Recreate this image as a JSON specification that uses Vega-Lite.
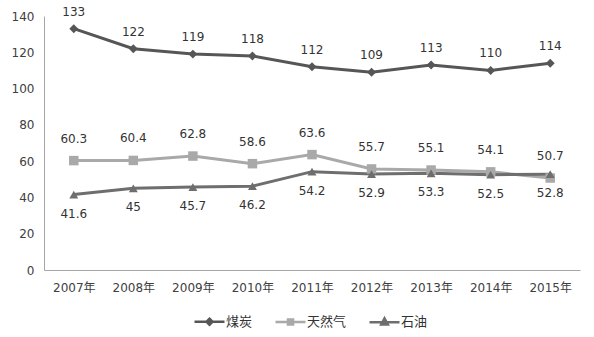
{
  "$schema": "https://vega.github.io/schema/vega-lite/v6.json",
  "autosize": {"type": "none"},
  "width": 536,
  "height": 254,
  "padding": {"left": 44, "top": 16, "right": 14, "bottom": 67},
  "background": "white",
  "config": {
    "view": {"stroke": null},
    "font": "DejaVu Sans",
    "axis": {"labelFont": "DejaVu Sans, Noto Sans CJK SC", "labelFontSize": 12, "labelColor": "#404040", "domainColor": "#a6a6a6", "domainWidth": 1, "ticks": false, "grid": false, "title": null}
  },
  "data": {
    "values": [
      {"year": "2007年", "series": "煤炭", "v": 133},
      {"year": "2008年", "series": "煤炭", "v": 122},
      {"year": "2009年", "series": "煤炭", "v": 119},
      {"year": "2010年", "series": "煤炭", "v": 118},
      {"year": "2011年", "series": "煤炭", "v": 112},
      {"year": "2012年", "series": "煤炭", "v": 109},
      {"year": "2013年", "series": "煤炭", "v": 113},
      {"year": "2014年", "series": "煤炭", "v": 110},
      {"year": "2015年", "series": "煤炭", "v": 114},
      {"year": "2007年", "series": "天然气", "v": 60.3},
      {"year": "2008年", "series": "天然气", "v": 60.4},
      {"year": "2009年", "series": "天然气", "v": 62.8},
      {"year": "2010年", "series": "天然气", "v": 58.6},
      {"year": "2011年", "series": "天然气", "v": 63.6},
      {"year": "2012年", "series": "天然气", "v": 55.7},
      {"year": "2013年", "series": "天然气", "v": 55.1},
      {"year": "2014年", "series": "天然气", "v": 54.1},
      {"year": "2015年", "series": "天然气", "v": 50.7},
      {"year": "2007年", "series": "石油", "v": 41.6},
      {"year": "2008年", "series": "石油", "v": 45},
      {"year": "2009年", "series": "石油", "v": 45.7},
      {"year": "2010年", "series": "石油", "v": 46.2},
      {"year": "2011年", "series": "石油", "v": 54.2},
      {"year": "2012年", "series": "石油", "v": 52.9},
      {"year": "2013年", "series": "石油", "v": 53.3},
      {"year": "2014年", "series": "石油", "v": 52.5},
      {"year": "2015年", "series": "石油", "v": 52.8}
    ]
  },
  "encoding": {
    "x": {"field": "year", "type": "ordinal", "scale": {"paddingInner": 0, "paddingOuter": 0.5}, "axis": {"labelAngle": 0, "labelPadding": 12}},
    "y": {"field": "v", "type": "quantitative", "scale": {"domain": [0, 140], "nice": false}, "axis": {"values": [0, 20, 40, 60, 80, 100, 120, 140], "labelPadding": 10}}
  },
  "layer": [
    {
      "mark": {"type": "line", "strokeWidth": 3},
      "encoding": {
        "color": {
          "field": "series", "type": "nominal",
          "scale": {"domain": ["煤炭", "天然气", "石油"], "range": ["#565656", "#a9a9a9", "#6e6e6e"]},
          "legend": {
            "orient": "none", "legendX": 149, "legendY": 289, "direction": "horizontal", "title": null, "padding": 0,
            "symbolSize": 900, "symbolStrokeWidth": 2.5, "labelFont": "Noto Sans CJK SC", "labelFontSize": 13, "labelColor": "#333333", "labelOffset": 0, "columnPadding": 17,
            "encode": {
              "symbols": {
                "update": {
                  "shape": {"signal": "datum.value === '煤炭' ? 'M-1,0H1M0,-0.2L0.2,0L0,0.2L-0.2,0Z' : datum.value === '天然气' ? 'M-1,0H1M-0.17,-0.17H0.17V0.17H-0.17Z' : 'M-1,0H1M0,-0.25L0.22,0.15H-0.22Z'"},
                  "fill": {"signal": "scale('color', datum.value)"},
                  "stroke": {"signal": "scale('color', datum.value)"}
                }
              }
            }
          }
        }
      }
    },
    {
      "transform": [{"filter": "datum.series === '煤炭'"}],
      "mark": {"type": "point", "filled": true, "size": 80, "opacity": 1, "shape": "diamond", "color": "#565656"}
    },
    {
      "transform": [{"filter": "datum.series === '天然气'"}],
      "mark": {"type": "point", "filled": true, "size": 90, "opacity": 1, "shape": "square", "color": "#a9a9a9"}
    },
    {
      "transform": [{"filter": "datum.series === '石油'"}],
      "mark": {"type": "point", "filled": true, "size": 80, "opacity": 1, "shape": "triangle-up", "color": "#6e6e6e"}
    },
    {
      "transform": [{"filter": "datum.series === '煤炭'"}],
      "mark": {"type": "text", "dy": -17, "fontSize": 12, "font": "DejaVu Sans", "color": "#333333"},
      "encoding": {"text": {"field": "v"}}
    },
    {
      "transform": [{"filter": "datum.series === '天然气'"}],
      "mark": {"type": "text", "dy": -22, "fontSize": 12, "font": "DejaVu Sans", "color": "#333333"},
      "encoding": {"text": {"field": "v"}}
    },
    {
      "transform": [{"filter": "datum.series === '石油'"}],
      "mark": {"type": "text", "dy": 19, "fontSize": 12, "font": "DejaVu Sans", "color": "#333333"},
      "encoding": {"text": {"field": "v"}}
    }
  ]
}
